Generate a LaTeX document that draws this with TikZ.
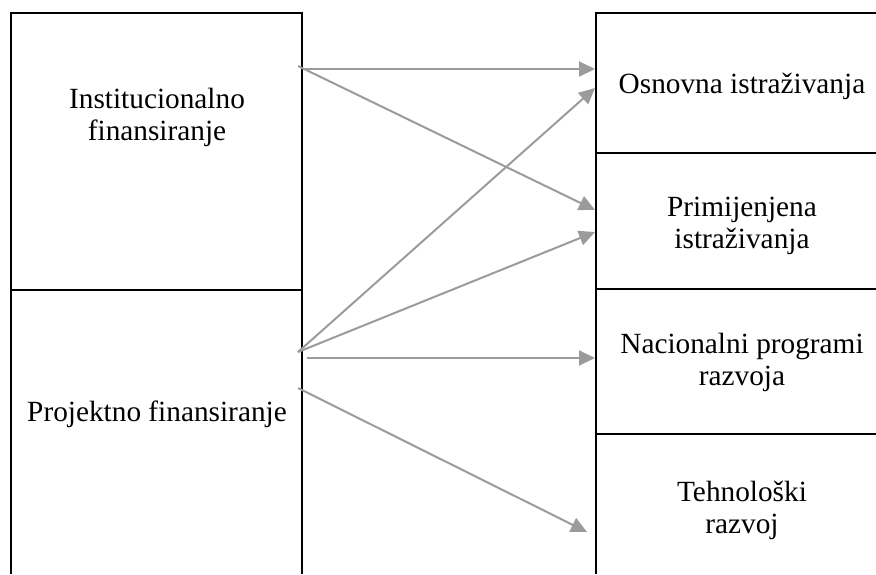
\documentclass[tikz,border=0pt]{standalone}
\usepackage{fontspec}
\setmainfont{Liberation Serif}
\usetikzlibrary{arrows.meta}
\definecolor{arrowgray}{RGB}{155,155,155}

\begin{document}
\begin{tikzpicture}[x=1pt, y=-1pt,
    box/.style={line width=2.4pt, black},
    link/.style={line width=2pt, arrowgray, -{Triangle[length=16pt,width=15pt]}},
    label/.style={font=\fontsize{29.3}{31.5}\selectfont, align=center, inner sep=0pt, anchor=base}]
    \useasboundingbox (0,0) rectangle (876,574);
    % Left column
    \draw[box] (11,574) -- (11,13) -- (302,13) -- (302,574);
    \draw[box] (11,290) -- (302,290);
    % Right column
    \draw[box] (876,13) -- (596,13) -- (596,574);
    \draw[box] (596,153) -- (876,153);
    \draw[box] (596,289) -- (876,289);
    \draw[box] (596,434) -- (876,434);
    % Texts (base = last line)
    \node[label] (inst) at (157,140) {Institucionalno\\finansiranje};
    \node[label] (proj) at (157,421) {Projektno finansiranje};
    \node[label] (osn) at (742,93) {Osnovna istraživanja};
    \node[label] (prim) at (742,248) {Primijenjena\\istraživanja};
    \node[label] (nac) at (742,385) {Nacionalni programi\\razvoja};
    \node[label] (teh) at (742,533) {Tehnološki\\razvoj};
    % Arrow ends
    \coordinate (inst a) at (303,69);
    \coordinate (inst b) at (298,66);
    \coordinate (proj a) at (298,352);
    \coordinate (proj b) at (307,358);
    \coordinate (proj c) at (298,388);
    \coordinate (osn a) at (595,69);
    \coordinate (osn b) at (595,88);
    \coordinate (prim a) at (595,210);
    \coordinate (prim b) at (595,232);
    \coordinate (nac a) at (595,358);
    \coordinate (teh a) at (587,532);
    % Arrows
    \draw[link] (inst a) -- (osn a);
    \draw[link] (inst b) -- (prim a);
    \draw[link] (proj a) -- (osn b);
    \draw[link] (proj a) -- (prim b);
    \draw[link] (proj b) -- (nac a);
    \draw[link] (proj c) -- (teh a);
\end{tikzpicture}
\end{document}
